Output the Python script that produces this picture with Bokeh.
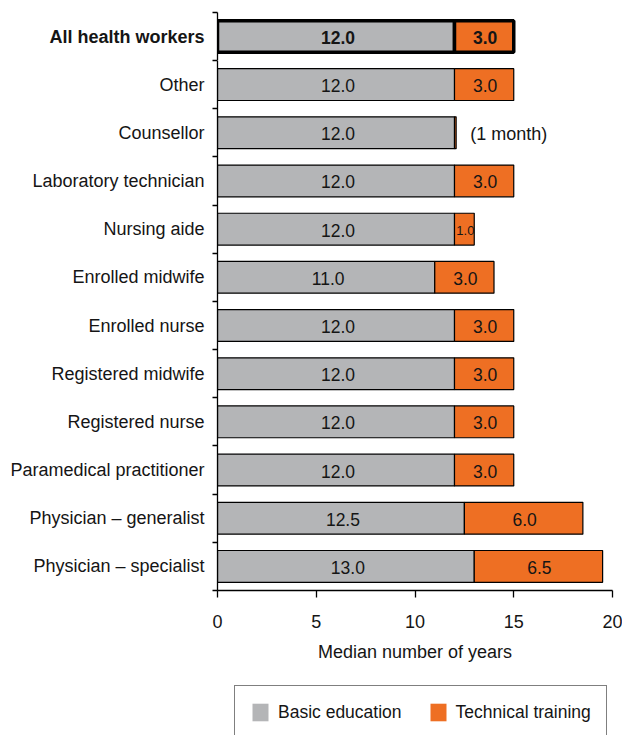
from bokeh.plotting import figure
from bokeh.layouts import column
from bokeh.models import (ColumnDataSource, Range1d, FixedTicker, Legend, LegendItem, Label)
from bokeh.core.properties import value
from bokeh.embed import file_html
from bokeh.resources import INLINE

# ---- data (top to bottom) ----
categories = ["All health workers", "Other", "Counsellor", "Laboratory technician",
              "Nursing aide", "Enrolled midwife", "Enrolled nurse", "Registered midwife",
              "Registered nurse", "Paramedical practitioner", "Physician \u2013 generalist",
              "Physician \u2013 specialist"]
basic_education = [12.0, 12.0, 12.0, 12.0, 12.0, 11.0, 12.0, 12.0, 12.0, 12.0, 12.5, 13.0]
technical_training = [3.0, 3.0, 0.083, 3.0, 1.0, 3.0, 3.0, 3.0, 3.0, 3.0, 6.0, 6.5]
basic_labels = ["12.0", "12.0", "12.0", "12.0", "12.0", "11.0", "12.0", "12.0", "12.0", "12.0", "12.5", "13.0"]
technical_labels = ["3.0", "3.0", "", "3.0", "1.0", "3.0", "3.0", "3.0", "3.0", "3.0", "6.0", "6.5"]
counsellor_note = "(1 month)"
x_ticks = [0, 5, 10, 15, 20]
x_title = "Median number of years"
series_names = ["Basic education", "Technical training"]

GREY = "#B4B5B7"
ORANGE = "#EE6F23"
FONT = "Liberation Sans"
TXT = "#151515"
highlight = "All health workers"

ROW_PX = 48.17
LEFT, FRAME_W, RIGHT = 217, 395, 10
BH = 0.66
x_range = Range1d(0, 20)


def make_panel(indices, top_border, bottom_border, with_x_axis, bold):
    m = len(indices)
    ys = [m - 1 - k for k in range(m)]
    cats = [categories[i] for i in indices]
    b = [basic_education[i] for i in indices]
    t = [technical_training[i] for i in indices]
    tl = [technical_labels[i] for i in indices]
    src = ColumnDataSource(dict(
        y=ys, basic=b, tech_left=b,
        tech_right=[bb + tt for bb, tt in zip(b, t)],
        basic_mid=[bb / 2 for bb in b],
        tech_mid=[bb + tt / 2 for bb, tt in zip(b, t)],
        basic_lab=[basic_labels[i] for i in indices],
        tech_lab=tl,
        tsize=["13px" if s == "1.0" else "17.5px" for s in tl],
    ))
    f = figure(frame_width=FRAME_W, frame_height=round(ROW_PX * m),
               output_backend="svg", toolbar_location=None,
               x_range=x_range, y_range=Range1d(-0.5, m - 0.5),
               x_axis_location="below" if with_x_axis else None,
               min_border_left=LEFT, min_border_right=RIGHT,
               min_border_top=top_border, min_border_bottom=bottom_border)
    f.outline_line_color = None
    f.grid.visible = False
    f.background_fill_color = "white"
    f.border_fill_color = "white"

    lw = 3.5 if bold else 1.2
    f.hbar(y="y", left=0, right="basic", height=BH, source=src,
           fill_color=GREY, line_color="black", line_width=lw)
    f.hbar(y="y", left="tech_left", right="tech_right", height=BH, source=src,
           fill_color=ORANGE, line_color="black", line_width=lw)

    style = "bold" if bold else "normal"
    f.text(x="basic_mid", y="y", text="basic_lab", source=src, text_align="center",
           text_baseline="middle", text_font=value(FONT), text_font_size="17.5px",
           text_font_style=style, text_color=TXT, x_offset=2, y_offset=1)
    f.text(x="tech_mid", y="y", text="tech_lab", source=src, text_align="center",
           text_baseline="middle", text_font=value(FONT), text_font_size="tsize",
           text_font_style=style, text_color=TXT, x_offset=1, y_offset=1)

    if "Counsellor" in cats:
        k = cats.index("Counsellor")
        f.add_layout(Label(x=b[k] + t[k], y=ys[k], text=counsellor_note, x_offset=14,
                           y_offset=-1, text_align="left", text_baseline="middle",
                           text_font=FONT, text_font_size="18px", text_color=TXT))

    ax = f.yaxis[0]
    ax.ticker = FixedTicker(ticks=ys, minor_ticks=[k - 0.5 for k in range(m + 1)])
    ax.major_label_overrides = {y: c for y, c in zip(ys, cats)}
    ax.major_tick_line_color = None
    ax.major_tick_out = 0
    ax.major_tick_in = 0
    ax.minor_tick_out = 5
    ax.minor_tick_in = 0
    ax.minor_tick_line_color = "black"
    ax.minor_tick_line_width = 1.3
    ax.axis_line_width = 1.3
    ax.major_label_standoff = 8
    ax.major_label_text_font = FONT
    ax.major_label_text_font_size = "18px"
    ax.major_label_text_font_style = style
    ax.major_label_text_color = TXT

    if with_x_axis:
        xa = f.xaxis[0]
        xa.ticker = FixedTicker(ticks=x_ticks)
        xa.major_tick_out = 7
        xa.major_tick_in = 0
        xa.minor_tick_line_color = None
        xa.axis_line_width = 1.3
        xa.major_tick_line_width = 1.3
        xa.major_label_standoff = 17
        xa.major_label_text_font = FONT
        xa.major_label_text_font_size = "18px"
        xa.major_label_text_color = TXT
        xa.axis_label = x_title
        xa.axis_label_standoff = 11
        xa.axis_label_text_font = FONT
        xa.axis_label_text_font_size = "18px"
        xa.axis_label_text_font_style = "normal"
        xa.axis_label_text_color = TXT
    return f


hi = categories.index(highlight)
others = [i for i in range(len(categories)) if i != hi]
top = make_panel([hi], 12, 0, False, True)
main = make_panel(others, 0, 92, True, False)

# legend strip (its frame is aligned with the chart frames by the column layout)
lf = figure(width=LEFT + FRAME_W + RIGHT, height=53, output_backend="svg", toolbar_location=None,
            x_range=Range1d(0, 1), y_range=Range1d(0, 1),
            x_axis_location=None, y_axis_location=None,
            min_border_left=0, min_border_right=0, min_border_top=0, min_border_bottom=0)
lf.outline_line_color = None
lf.grid.visible = False
lf.background_fill_color = "white"
lf.border_fill_color = "white"
# zero-size proxy bars, only used to draw the legend swatches
proxy = ColumnDataSource(dict(y=[0.5], l=[0.0], r=[0.0]))
g1 = lf.hbar(y="y", left="l", right="r", height=0.01, source=proxy, fill_color=GREY, line_color=None)
g2 = lf.hbar(y="y", left="l", right="r", height=0.01, source=proxy, fill_color=ORANGE, line_color=None)
legend = Legend(items=[LegendItem(label=series_names[0], renderers=[g1]),
                       LegendItem(label=series_names[1], renderers=[g2])],
                orientation="horizontal", location=(17, -4),
                glyph_width=20, glyph_height=22, label_standoff=8, spacing=26,
                padding=15, margin=0, border_line_color="black", border_line_width=1.5,
                label_text_font=FONT, label_text_font_size="17.5px", label_text_color=TXT,
                background_fill_color="white")
lf.add_layout(legend, "center")

layout = column(top, main, lf, spacing=0)
open("out.html", "w").write(file_html(layout, INLINE))
